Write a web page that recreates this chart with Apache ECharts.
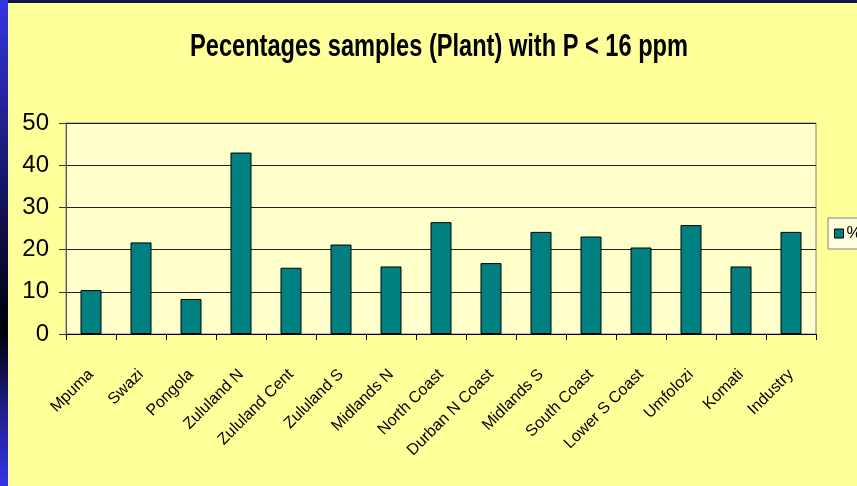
<!DOCTYPE html>
<html>
<head>
<meta charset="utf-8">
<script src="https://cdn.jsdelivr.net/npm/echarts@6/dist/echarts.min.js"></script>
<style>
html,body{margin:0;padding:0;background:#FFFF99;}
#c{width:857px;height:486px;}
</style>
</head>
<body>
<div id="c"></div>
<script>
var categories = ['Mpuma','Swazi','Pongola','Zululand N','Zululand Cent','Zululand S','Midlands N','North Coast','Durban N Coast','Midlands S','South Coast','Lower S Coast','Umfolozi','Komati','Industry'];
var percentValues = [10.4, 21.7, 8.3, 43.0, 15.7, 21.2, 16.0, 26.5, 16.8, 24.2, 23.1, 20.5, 25.8, 16.0, 24.2];
var yTicks = [0, 10, 20, 30, 40, 50];
var seriesName = '%';
var titleText = 'Pecentages samples (Plant) with P < 16 ppm';

var titleFont = 'bold 32px "Liberation Sans", Arial, sans-serif';
var mc = document.createElement('canvas').getContext('2d');
mc.font = titleFont;
var titleW = mc.measureText(titleText).width;
var titleScale = 498 / titleW;

var chart = echarts.init(document.getElementById('c'), null, {renderer:'canvas'});
chart.setOption({
  backgroundColor: '#FFFF99',
  animation: false,
  graphic: [
    {type:'rect', left:0, top:0, shape:{width:857, height:3}, style:{fill:'#12124a'}, z:100},
    {type:'rect', left:0, top:0, shape:{width:8, height:486},
     style:{fill:new echarts.graphic.LinearGradient(0,0,0,1,[
       {offset:0,color:'#3535e0'},{offset:0.45,color:'#101050'},{offset:0.68,color:'#000008'},{offset:0.85,color:'#202090'},{offset:1,color:'#3535e8'}])}, z:100},
    {type:'text', x:190, y:63, scaleX: titleScale, scaleY: 1, originX: 0, originY: 0,
     style:{text: titleText, x:0, y:0, font: titleFont, fill:'#000', textAlign:'left', textVerticalAlign:'bottom', verticalAlign:'bottom'}, z:50}
  ],
  legend: {
    data: [seriesName],
    left: 828, top: 218,
    orient: 'vertical',
    backgroundColor: '#FFFFE0',
    borderColor: '#808080', borderWidth: 1,
    padding: [7, 10, 7, 6],
    icon: 'rect',
    itemWidth: 9, itemHeight: 9, itemGap: 4,
    itemStyle: {borderColor:'#000', borderWidth:1},
    textStyle: {fontFamily: 'Liberation Sans', fontSize: 17, color: '#000', padding:[0,0,0,-2]}
  },
  grid: {
    left: 66, right: 41, top: 123, bottom: 152,
    show: true, backgroundColor: '#FFFFCC', borderColor: '#808080', borderWidth: 1
  },
  xAxis: {
    type: 'category',
    data: categories,
    boundaryGap: true,
    axisLine: {show: true, lineStyle: {color: '#000', width: 1}},
    axisTick: {show: true, length: 6, alignWithLabel: false, lineStyle: {color: '#000'}},
    axisLabel: {
      interval: 0, rotate: 45, margin: 38,
      fontFamily: 'Liberation Sans', fontSize: 16, color: '#000'
    }
  },
  yAxis: {
    type: 'value',
    min: 0, max: 50, interval: 10,
    axisLine: {show: true, lineStyle: {color: '#555', width: 1}},
    axisTick: {show: true, length: 7, lineStyle: {color: '#333'}},
    axisLabel: {
      margin: 17,
      fontFamily: 'Liberation Sans', fontSize: 24, color: '#000',
      formatter: function(v){ return yTicks.indexOf(v) >= 0 ? String(v) : ''; }
    },
    splitLine: {show: true, lineStyle: {color: '#222', width: 1}}
  },
  series: [{
    name: seriesName,
    type: 'bar',
    data: percentValues,
    barWidth: 21,
    itemStyle: {color: '#008080', borderColor: '#000', borderWidth: 1}
  }]
});
</script>
</body>
</html>
